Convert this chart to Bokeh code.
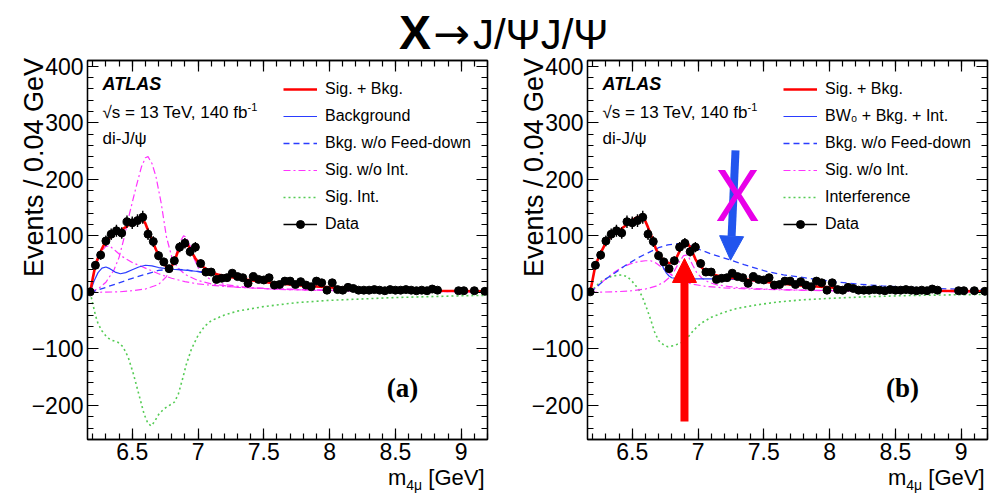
import math
from bokeh.plotting import figure
from bokeh.models import (Range1d, FixedTicker, CustomJSTickFormatter, LinearAxis,
                          Legend, LegendItem, Label, Arrow, NormalHead, ColumnDataSource, Div)
from bokeh.layouts import column, row
from bokeh.embed import file_html
from bokeh.resources import INLINE

# ---------------- data ----------------
BIN_LO, BIN_W, N_BINS = 6.16, 0.04, 76
mass = [round(BIN_LO + BIN_W * (i + 0.5), 3) for i in range(N_BINS)]
counts = [1, 48, 66, 91, 103, 109, 105, 125, 123, 127,
          133, 103, 90, 65, 54, 42, 56, 80, 87, 72,
          80, 51, 36, 36, 23, 25, 26, 34, 28, 26,
          16, 28, 23, 22, 26, 13, 14, 20, 20, 14,
          19, 13, 10, 20, 17, 4, 17, 5, 4, 9,
          7, 4, 4, 4, 5, 4, 3, 5, 4, 4,
          5, 4, 3, 4, 3, 6, 4, 0, 0, 0,
          3, 3, 0, 3, 0, 2]

# panel (a)
a_tot_m = [6.18, 6.20, 6.22, 6.25, 6.28, 6.30, 6.34, 6.38, 6.42, 6.46, 6.50, 6.54, 6.57, 6.60, 6.62,
           6.64, 6.66, 6.68, 6.70, 6.72, 6.74, 6.76, 6.78, 6.80, 6.82, 6.84, 6.86, 6.88, 6.90, 6.92,
           6.94, 6.96, 6.98, 7.00, 7.04, 7.08, 7.12, 7.16, 7.20, 7.30, 7.40, 7.50, 7.60, 7.70, 7.80,
           7.90, 8.00, 8.20, 8.40, 8.60, 8.80, 9.00, 9.20]
a_tot_v = [0, 25, 48, 68, 82, 89, 100, 106, 111, 117, 124, 130, 131, 122, 110,
           99, 87, 76, 66, 57, 50, 45, 43, 46, 55, 68, 80, 87, 88, 85,
           77, 68, 60, 54, 45, 39, 34, 31, 29, 25, 21.5, 18.5, 16, 14, 12,
           10.5, 9, 7, 5.3, 4, 3, 2.4, 1.8]
a_bkg_m = [6.18, 6.21, 6.24, 6.27, 6.30, 6.33, 6.37, 6.41, 6.45, 6.50, 6.55, 6.60, 6.65, 6.70, 6.80,
           6.90, 7.00, 7.10, 7.20, 7.30, 7.40, 7.50, 7.60, 7.70, 7.80, 7.90, 8.00, 8.20, 8.40, 8.60,
           8.80, 9.00, 9.20]
a_bkg_v = [0, 20, 35, 43, 45, 42, 36, 33, 35, 40, 45, 48, 47, 44, 41,
           39.5, 37, 33, 29, 25, 21.5, 18.5, 16, 14, 12, 10.5, 9, 7, 5.3, 4,
           3, 2.4, 1.8]
a_nofd_m = [6.18, 6.30, 6.40, 6.50, 6.60, 6.70, 6.80, 6.90, 7.00, 7.10, 7.20, 7.30, 7.40, 7.50, 7.60,
            7.70, 7.80, 7.90, 8.00, 8.20, 8.40, 8.60, 8.80, 9.00, 9.20]
a_nofd_v = [0, 9, 17, 25, 32, 39, 41, 40, 37, 33, 29, 25, 21.5, 18.5, 16,
            14, 12, 10.5, 9, 7, 5.3, 4, 3, 2.4, 1.8]
a_sig1_m = [6.18, 6.22, 6.26, 6.30, 6.33, 6.37, 6.42, 6.50, 6.60, 6.70, 6.80, 6.90, 7.00, 7.20, 7.50,
            8.00, 8.50, 9.20]
a_sig1_v = [0, 45, 70, 82, 82, 74, 64, 53, 43, 33, 25, 19, 15, 10.5, 7, 4.2, 2.6, 1.3]
a_sig2_m = [6.18, 6.25, 6.30, 6.36, 6.40, 6.44, 6.48, 6.53, 6.57, 6.60, 6.62, 6.65, 6.68, 6.72, 6.76,
            6.80, 6.84, 6.90, 7.00, 7.10, 7.30, 7.60, 8.00, 8.50, 9.20]
a_sig2_v = [0, 8, 18, 39, 62, 98, 140, 187, 222, 238, 240, 228, 205, 158, 98,
            63, 45, 32, 21, 15, 9, 5.5, 3.2, 1.8, 0.9]
a_sig3_m = [6.18, 6.40, 6.50, 6.60, 6.70, 6.76, 6.80, 6.84, 6.87, 6.89, 6.91, 6.94, 6.97, 7.00, 7.05,
            7.10, 7.20, 7.40, 7.70, 8.00, 8.50, 9.20]
a_sig3_v = [0, 1, 3, 6, 14, 28, 45, 72, 92, 100, 98, 82, 60, 44, 30,
            22, 14, 8, 5, 3.2, 1.8, 0.9]
a_int_m = [6.18, 6.20, 6.22, 6.24, 6.27, 6.31, 6.35, 6.39, 6.43, 6.47, 6.51, 6.55, 6.59, 6.62, 6.645,
           6.67, 6.70, 6.74, 6.78, 6.82, 6.85, 6.88, 6.91, 6.95, 7.00, 7.05, 7.10, 7.20, 7.30, 7.50,
           7.75, 8.00, 8.50, 9.00, 9.20]
a_int_v = [0, -20, -40, -55, -68, -80, -85, -88, -96, -115, -145, -180, -215, -232, -236,
           -228, -216, -206, -200, -194, -180, -155, -128, -100, -76, -60, -50, -40, -33, -25,
           -18, -14, -9, -6, -5]

# panel (b)
b_tot_m = [6.18, 6.22, 6.26, 6.30, 6.34, 6.38, 6.42, 6.46, 6.50, 6.54, 6.57, 6.60, 6.62, 6.64, 6.66,
           6.68, 6.70, 6.72, 6.74, 6.76, 6.78, 6.80, 6.82, 6.84, 6.86, 6.88, 6.90, 6.92, 6.94, 6.96,
           6.98, 7.00, 7.04, 7.08, 7.12, 7.16, 7.20, 7.30, 7.40, 7.50, 7.60, 7.70, 7.80, 7.90, 8.00,
           8.20, 8.40, 8.60, 8.80, 9.00, 9.20]
b_tot_v = [0, 48, 70, 88, 100, 107, 113, 120, 128, 133, 134, 126, 115, 103, 90,
           77, 68, 61, 56, 53, 52, 52, 55, 63, 73, 83, 88, 87, 80, 70,
           59, 51, 41, 35, 31, 29, 27, 24.5, 22, 19, 16.5, 14, 12, 10.5, 9,
           7, 5.2, 4, 3, 2.4, 1.8]
b_bw0_m = [6.18, 6.22, 6.26, 6.30, 6.34, 6.38, 6.42, 6.46, 6.50, 6.54, 6.57, 6.60, 6.62, 6.64, 6.66,
           6.68, 6.70, 6.72, 6.74, 6.76, 6.78, 6.80, 6.84, 6.90, 7.00, 7.10, 7.20, 7.30, 7.40, 7.50,
           7.60, 7.70, 7.80, 7.90, 8.00, 8.20, 8.40, 8.60, 8.80, 9.00, 9.20]
b_bw0_v = [0, 48, 70, 88, 100, 107, 113, 120, 128, 133, 134, 126, 115, 103, 90,
           76, 62, 52, 42, 34, 29, 26, 24.5, 24, 24, 24, 23.5, 23, 21, 18.5,
           16, 14, 12, 10.5, 9, 7, 5.2, 4, 3, 2.4, 1.8]
b_nofd_m = [6.18, 6.25, 6.30, 6.365, 6.45, 6.55, 6.62, 6.70, 6.77, 6.83, 6.90, 6.96, 7.02, 7.10, 7.18,
            7.25, 7.35, 7.45, 7.53, 7.65, 7.78, 7.90, 8.00, 8.20, 8.40, 8.60, 8.80, 9.00, 9.20]
b_nofd_v = [0, 14, 24, 34, 48, 62, 70, 79, 84, 86, 85.5, 81, 75, 68, 62,
            57, 49, 42, 36.5, 31, 27, 23, 20, 15, 11.5, 9, 7, 5.5, 4.5]
b_sig1_m = [6.18, 6.24, 6.30, 6.36, 6.42, 6.48, 6.54, 6.60, 6.64, 6.68, 6.72, 6.77, 6.82, 6.87, 6.95,
            7.05, 7.20, 7.40, 7.70, 8.00, 8.50, 9.20]
b_sig1_v = [0, 12, 24, 35, 44, 50, 54, 56, 56, 52, 45, 36, 27, 21, 15,
            11, 8, 6, 4.2, 3, 1.8, 1]
b_sig2_m = [6.18, 6.40, 6.50, 6.60, 6.68, 6.74, 6.78, 6.82, 6.86, 6.89, 6.91, 6.93, 6.96, 6.99, 7.03,
            7.08, 7.15, 7.30, 7.50, 7.80, 8.20, 8.70, 9.20]
b_sig2_v = [0, 1.5, 3, 6, 11, 18, 26, 38, 55, 65, 66, 62, 48, 35, 25,
            18, 13, 8.5, 6, 4, 2.6, 1.6, 1]
b_int_m = [6.18, 6.22, 6.26, 6.30, 6.34, 6.38, 6.42, 6.46, 6.49, 6.52, 6.55, 6.58, 6.61, 6.64, 6.67,
           6.70, 6.74, 6.77, 6.82, 6.87, 6.92, 6.97, 7.02, 7.10, 7.20, 7.30, 7.45, 7.60, 7.80, 8.00,
           8.30, 8.60, 9.00, 9.20]
b_int_v = [0, 10, 19, 24, 28, 30, 31, 28, 22, 14, 5, -10, -28, -48, -70,
           -85, -93, -96, -94, -89, -80, -66, -55, -44, -35, -28, -22, -17, -13, -10.5,
           -7.5, -5.5, -4, -3.5]

# axes / ticks
X_RANGE = (6.16, 9.2)
Y_RANGE = (-260, 410)
x_major = [6.5, 7.0, 7.5, 8.0, 8.5, 9.0]
x_minor = [round(6.2 + 0.1 * i, 1) for i in range(31)]
y_major = [-200, -100, 0, 100, 200, 300, 400]
y_minor = [-260 + 20 * i for i in range(34)]
Y_TITLE = "Events / 0.04 GeV"

FONT = "Liberation Sans"
RED = "#ff0000"
BLUE = "#2a3cff"
PINK = "#ff33ff"
GREEN = "#55cc55"

SIGNED = CustomJSTickFormatter(code="return (tick < 0 ? '\\u2212' + Math.abs(tick) : String(tick));")
EMPTY = CustomJSTickFormatter(code="return '';")


def style_axis(ax, ticker, fmt, size="23px", standoff=4):
    ax.ticker = ticker
    ax.formatter = fmt
    ax.major_tick_in = 11
    ax.major_tick_out = 0
    ax.minor_tick_in = 6
    ax.minor_tick_out = 0
    ax.axis_line_width = 1.3
    ax.axis_line_color = "black"
    ax.major_tick_line_color = "black"
    ax.minor_tick_line_color = "black"
    ax.major_tick_line_width = 1.2
    ax.minor_tick_line_width = 1.2
    ax.major_label_text_font = FONT
    ax.major_label_text_font_size = size
    ax.major_label_text_color = "black"
    ax.major_label_standoff = standoff


def make_panel(b_left, b_right, curves, leg_labels, tag, width):
    p = figure(width=width, height=416, x_range=Range1d(*X_RANGE), y_range=Range1d(*Y_RANGE),
               output_backend="svg", toolbar_location=None,
               min_border_left=b_left, min_border_right=b_right,
               min_border_top=6, min_border_bottom=31)
    p.xgrid.visible = False
    p.ygrid.visible = False
    p.outline_line_color = "black"
    p.outline_line_width = 1.3
    xt = FixedTicker(ticks=x_major, minor_ticks=x_minor)
    yt = FixedTicker(ticks=y_major, minor_ticks=y_minor)
    style_axis(p.xaxis[0], xt, SIGNED, standoff=3)
    style_axis(p.yaxis[0], yt, SIGNED, standoff=4)
    ra = LinearAxis()
    style_axis(ra, yt, EMPTY, size="0px", standoff=0)
    p.add_layout(ra, "right")
    ta = LinearAxis()
    style_axis(ta, xt, EMPTY, size="0px", standoff=0)
    p.add_layout(ta, "above")

    # y-axis title carried by an extra, otherwise invisible, left axis; the label is
    # centred on the axis, so non-breaking spaces in front push the words to the top end
    ya = LinearAxis(ticker=FixedTicker(ticks=[]), formatter=EMPTY,
                    major_label_text_font_size="0px", major_label_standoff=0,
                    major_tick_in=0, major_tick_out=0, minor_tick_in=0, minor_tick_out=0,
                    axis_line_alpha=0, axis_label="\u00a0" * 22 + Y_TITLE,
                    axis_label_text_font=FONT, axis_label_text_font_size="27px",
                    axis_label_text_font_style="normal", axis_label_text_color="black",
                    axis_label_standoff=-20)
    if hasattr(ya, "axis_label_align"):
        ya.axis_label_align = "center"
    p.add_layout(ya, "left")

    (tot, bkg, nofd, sigs, intf) = curves
    r_int = p.line(intf[0], intf[1], line_color=GREEN, line_width=1.6, line_dash="2 3")
    r_sig = None
    for sm, sv in sigs:
        r = p.line(sm, sv, line_color=PINK, line_width=1.2, line_dash="7 3 2 3")
        r_sig = r_sig or r
    r_nofd = p.line(nofd[0], nofd[1], line_color=BLUE, line_width=1.3, line_dash="6 4")
    r_bkg = p.line(bkg[0], bkg[1], line_color=BLUE, line_width=1.2)
    r_tot = p.line(tot[0], tot[1], line_color=RED, line_width=2.6)

    xs = [m for m, c in zip(mass, counts) if c > 0]
    ys = [c for c in counts if c > 0]
    src = ColumnDataSource(dict(x=xs, y=ys,
                                lo=[c - math.sqrt(c) for c in ys],
                                hi=[c + math.sqrt(c) for c in ys]))
    r_err = p.segment(x0="x", y0="lo", x1="x", y1="hi", source=src, line_color="black", line_width=1.4)
    r_pts = p.scatter(x="x", y="y", source=src, size=8, marker="circle",
                      fill_color="black", line_color="black")

    items = [LegendItem(label=leg_labels[0], renderers=[r_tot]),
             LegendItem(label=leg_labels[1], renderers=[r_bkg]),
             LegendItem(label=leg_labels[2], renderers=[r_nofd]),
             LegendItem(label=leg_labels[3], renderers=[r_sig]),
             LegendItem(label=leg_labels[4], renderers=[r_int]),
             LegendItem(label=leg_labels[5], renderers=[r_err, r_pts])]
    leg = Legend(items=items, location=(196, 205), glyph_width=34, glyph_height=20,
                 label_height=20, spacing=7, padding=0, margin=0, label_standoff=8,
                 border_line_alpha=0, background_fill_alpha=0,
                 label_text_font=FONT, label_text_font_size="16px", label_text_color="black")
    p.add_layout(leg)

    def lab(x, y, text, size, style="normal", font=FONT, align="left", baseline="middle"):
        p.add_layout(Label(x=x, y=y, x_units="screen", y_units="screen", text=text,
                           text_font=font, text_font_size=size, text_font_style=style,
                           text_align=align, text_baseline=baseline, text_color="black"))

    lab(15, 356, "ATLAS", "18px", style="bold italic")
    lab(15, 327, "\u221as = 13 TeV, 140 fb", "17px")
    lab(160, 333, "-1", "11px")
    lab(15, 301, "di-J/\u03c8", "17px")
    lab(315, 52, tag, "27px", style="bold", font="Liberation Serif", align="center")
    return p


p1 = make_panel(87, 11,
                ((a_tot_m, a_tot_v), (a_bkg_m, a_bkg_v), (a_nofd_m, a_nofd_v),
                 [(a_sig1_m, a_sig1_v), (a_sig2_m, a_sig2_v), (a_sig3_m, a_sig3_v)],
                 (a_int_m, a_int_v)),
                ["Sig. + Bkg.", "Background", "Bkg. w/o Feed-down", "Sig. w/o Int.", "Sig. Int.", "Data"],
                "(a)", 498)
p2 = make_panel(89, 10,
                ((b_tot_m, b_tot_v), (b_bw0_m, b_bw0_v), (b_nofd_m, b_nofd_v),
                 [(b_sig1_m, b_sig1_v), (b_sig2_m, b_sig2_v)],
                 (b_int_m, b_int_v)),
                ["Sig. + Bkg.", "BW\u2080 + Bkg. + Int.", "Bkg. w/o Feed-down", "Sig. w/o Int.",
                 "Interference", "Data"],
                "(b)", 499)

# annotations on panel (b)
p2.add_layout(Arrow(end=NormalHead(size=24, fill_color="#2255ee", line_color="#2255ee"),
                    x_start=7.285, y_start=251, x_end=7.247, y_end=57,
                    line_color="#2255ee", line_width=8))
p2.add_layout(Label(x=7.30, y=175, text="X", text_font="Noto Sans",
                    text_font_size="72px", text_color="#e800e8", text_align="center",
                    text_baseline="middle"))
p2.add_layout(Arrow(end=NormalHead(size=24, fill_color="#ff0000", line_color="#ff0000"),
                    x_start=6.897, y_start=-228, x_end=6.897, y_end=60,
                    line_color="#ff0000", line_width=8))

# title
title_div = Div(text="<div style=\"position:relative;width:997px;height:54px;"
                     "font-family:'Liberation Sans';color:#000;\">"
                     "<span style=\"position:absolute;left:399px;top:9px;font-size:48px;"
                     "line-height:48px;white-space:nowrap;\"><b>X</b>"
                     "<span style=\"font-family:'DejaVu Sans';font-size:44px;margin:0 3px 0 2px;\">\u2192</span>"
                     "<span style=\"font-size:42px;\">J/\u03a8J/\u03a8</span></span></div>",
                width=997, height=54, margin=(0, 0, 0, 0))

# x-axis titles
span = ("<span style=\"position:absolute;left:{x}px;top:-3px;font-size:22px;line-height:22px;"
        "white-space:nowrap;\">m<span style=\"font-size:14px;position:relative;top:5px;\">4\u03bc</span>"
        " [GeV]</span>")
xdiv = Div(text="<div style=\"position:relative;width:997px;height:27px;font-family:'Liberation Sans';"
                "color:#000;\">" + span.format(x=388) + span.format(x=888) + "</div>",
           width=997, height=27, margin=(0, 0, 0, 0))

layout = column(title_div, row(p1, p2), xdiv)
open("out.html", "w").write(file_html(layout, INLINE))
